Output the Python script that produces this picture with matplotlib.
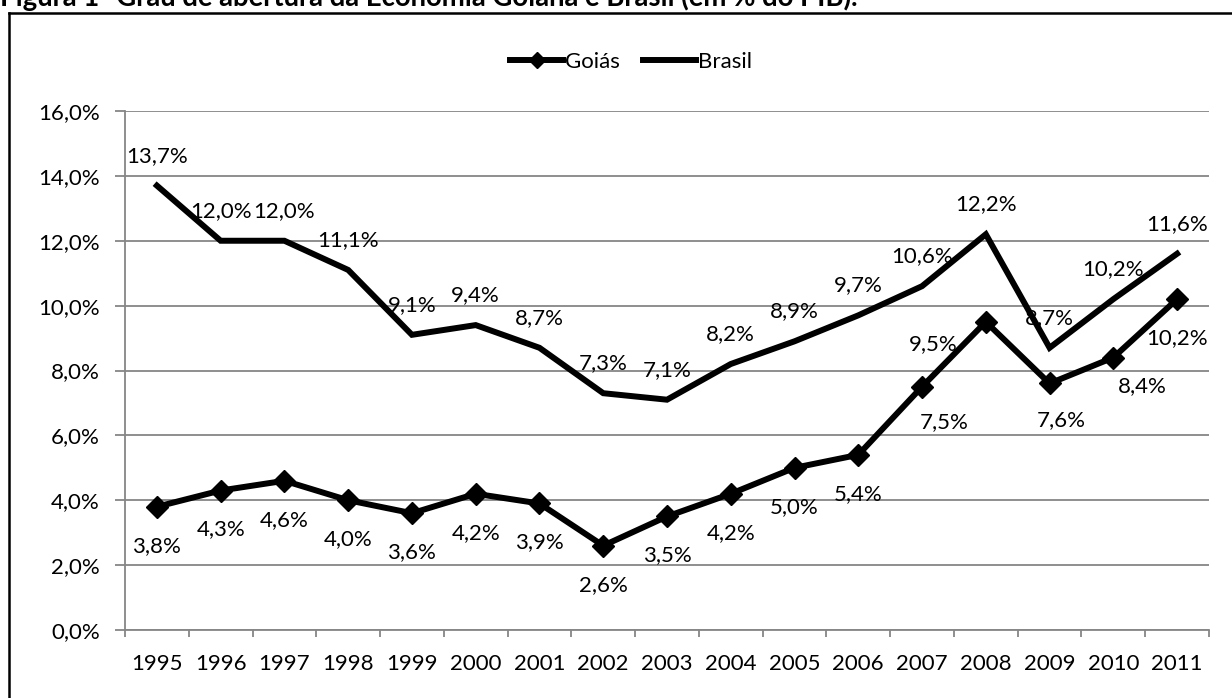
import matplotlib
matplotlib.use("Agg")
import matplotlib.pyplot as plt
from matplotlib.lines import Line2D

plt.rcParams['font.family'] = ['Lato', 'DejaVu Sans']

years = ['1995', '1996', '1997', '1998', '1999', '2000', '2001', '2002', '2003',
         '2004', '2005', '2006', '2007', '2008', '2009', '2010', '2011']
goias = [3.8, 4.3, 4.6, 4.0, 3.6, 4.2, 3.9, 2.6, 3.5, 4.2, 5.0, 5.4, 7.5, 9.5, 7.6, 8.4, 10.2]
brasil = [13.7, 12.0, 12.0, 11.1, 9.1, 9.4, 8.7, 7.3, 7.1, 8.2, 8.9, 9.7, 10.6, 12.2, 8.7, 10.2, 11.6]
yticks = [0, 2, 4, 6, 8, 10, 12, 14, 16]
title = "Figura 1- Grau de abertura da Economia Goiana e Brasil (em % do PIB)."

W, H = 1232, 698
fig = plt.figure(figsize=(W / 100, H / 100), dpi=100)
ax = fig.add_axes([125 / W, (H - 630) / H, 1084 / W, 519 / H])

x = list(range(len(years)))
grid_c = '#868686'
ax.plot(x, goias, color='black', lw=4.3, marker='D', ms=11, solid_joinstyle='miter',
        label='Goiás', zorder=3)
ax.plot(x, brasil, color='black', lw=4.3, solid_joinstyle='miter', label='Brasil', zorder=3)

fs = 16
def fmt(v):
    return f"{v:.1f}%".replace('.', ',')

# label offsets in pixels (default: Brasil above, Goiás below)
g_off = {12: (22, -35), 13: (-53, -22), 14: (12, -37), 15: (29, -29)}
for i, v in enumerate(goias):
    dx, dy = g_off.get(i, (0, -39))
    ax.annotate(fmt(v), (i, v), xytext=(dx, dy), textcoords='offset pixels',
                ha='center', va='center', fontsize=fs, zorder=4)
for i, v in enumerate(brasil):
    ax.annotate(fmt(v), (i, v), xytext=(0, 30), textcoords='offset pixels',
                ha='center', va='center', fontsize=fs, zorder=4)

ax.set_xlim(-0.5, len(years) - 0.5)
ax.set_ylim(0, 16)
ax.set_yticks(yticks)
ax.set_yticklabels([fmt(t) for t in yticks], fontsize=fs)
ax.set_xticks(x)
ax.set_xticklabels(years, fontsize=fs)
ax.set_xticks([i - 0.5 for i in range(len(years) + 1)], minor=True)
ax.tick_params(axis='x', which='major', length=0, pad=17)
ax.tick_params(axis='x', which='minor', length=5, width=1.3, color=grid_c, direction='out')
ax.tick_params(axis='y', which='major', length=7, width=1.3, color=grid_c, direction='out', pad=11)
ax.grid(axis='y', color=grid_c, lw=1.3)
ax.set_axisbelow(True)
for s in ['top', 'right']:
    ax.spines[s].set_visible(False)
for s in ['left', 'bottom']:
    ax.spines[s].set_color(grid_c)
    ax.spines[s].set_linewidth(1.3)

handles = [Line2D([], [], color='black', lw=4.3, marker='D', ms=8),
           Line2D([], [], color='black', lw=4.3)]
ax.legend(handles, ['Goiás', 'Brasil'], loc='center', bbox_to_anchor=((631 - 125) / 1084, (630 - 62) / 519),
          ncol=2, frameon=False, fontsize=fs, handlelength=2.4, handletextpad=0.1,
          columnspacing=1.0, borderaxespad=0)

# outer frame (extends beyond right and bottom edges)
fig.add_artist(Line2D([9 / W, 9 / W], [0, 1 - 13 / H], color='black', lw=1.8, transform=fig.transFigure))
fig.add_artist(Line2D([9 / W, 1], [1 - 13 / H, 1 - 13 / H], color='black', lw=1.8, transform=fig.transFigure))

t = fig.text(0, 1 - 6 / H, title, ha='left', va='baseline', fontsize=15, fontweight='bold')
fig.canvas.draw()
tw = t.get_window_extent(renderer=fig.canvas.get_renderer()).width
t.set_fontsize(15 * 863 / tw)

fig.savefig('out.png', dpi=100)
